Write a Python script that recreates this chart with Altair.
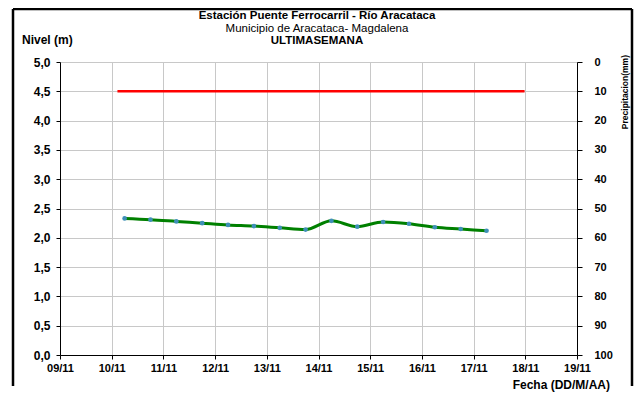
import altair as alt
import pandas as pd

# Nivel del río (m), cada 12 horas
FECHAS = [
    "2023-11-10T06:00:00", "2023-11-10T18:00:00",
    "2023-11-11T06:00:00", "2023-11-11T18:00:00",
    "2023-11-12T06:00:00", "2023-11-12T18:00:00",
    "2023-11-13T06:00:00", "2023-11-13T18:00:00",
    "2023-11-14T06:00:00", "2023-11-14T18:00:00",
    "2023-11-15T06:00:00", "2023-11-15T18:00:00",
    "2023-11-16T06:00:00", "2023-11-16T18:00:00",
    "2023-11-17T06:00:00",
]
NIVEL = [2.33, 2.31, 2.28, 2.25, 2.22, 2.20, 2.17, 2.14,
         2.29, 2.19, 2.27, 2.24, 2.18, 2.15, 2.12]
PRECIP = [0, 0, 0, 0, 0, 0, 0, 0, 0, 0, 0, 0, 0, 0, 0]

# Nivel de alerta
ALERTA_FECHAS = ["2023-11-10T02:40:00", "2023-11-17T23:40:00"]
ALERTA = [4.5, 4.5]

TITULO = "Estación Puente Ferrocarril - Río Aracataca"
SUBTITULO = "Municipio de Aracataca- Magdalena"
PERIODO = "ULTIMASEMANA"
Y_TITULO = "Nivel (m)"
X_TITULO = "Fecha (DD/M/AA)"
Y2_TITULO = "Precipitacion(mm)"

FONT = "Liberation Sans"

df = pd.DataFrame({"fecha": FECHAS, "nivel": NIVEL, "precip": PRECIP})
df_alerta = pd.DataFrame({"fecha": ALERTA_FECHAS, "nivel": ALERTA})
one = pd.DataFrame({"a": [0]})

x_scale = alt.Scale(domain=[alt.DateTime(year=2023, month=11, date=9),
                            alt.DateTime(year=2023, month=11, date=19)],
                    padding=0)
x_axis = alt.Axis(format="%d/%m", tickCount={"interval": "day", "step": 1},
                  title=None, grid=True, gridColor="#c8c8c8", gridWidth=1,
                  domainColor="black", tickColor="black", tickSize=4,
                  labelPadding=3, labelFontSize=11, labelFontWeight="bold",
                  labelFont=FONT, labelColor="black", labelFlush=False,
                  labelOverlap=False)
y_axis = alt.Axis(values=[0, 0.5, 1, 1.5, 2, 2.5, 3, 3.5, 4, 4.5, 5],
                  labelExpr="replace(format(datum.value, '.1f'), '.', ',')",
                  title=None, grid=True, gridColor="#c8c8c8", gridWidth=1,
                  domainColor="black", tickColor="black", tickSize=4,
                  labelPadding=6, labelFontSize=12, labelFontWeight="bold",
                  labelFont=FONT, labelColor="black", labelFlush=False)
y_scale = alt.Scale(domain=[0, 5])

X = alt.X("fecha:T", scale=x_scale, axis=x_axis)
Y = alt.Y("nivel:Q", scale=y_scale, axis=y_axis)

alerta = alt.Chart(df_alerta).mark_line(color="#ff0000", strokeWidth=2.5).encode(
    x=X, y=Y)

linea = alt.Chart(df).mark_line(color="#008000", strokeWidth=3,
                                interpolate="monotone").encode(x=X, y=Y)

puntos = alt.Chart(df).mark_circle(color="#3f8fb8", size=22, opacity=1).encode(
    x=X, y=Y)

nivel_layer = alt.layer(alerta, linea, puntos)

precip = alt.Chart(df).mark_bar(color="#4472c4", width=10).encode(
    x=X,
    y=alt.Y("precip:Q",
            scale=alt.Scale(domain=[0, 100], reverse=True),
            axis=alt.Axis(orient="right", values=list(range(0, 101, 10)),
                          title=None, grid=False, domainColor="black",
                          tickColor="black", tickSize=5, labelPadding=12,
                          labelFontSize=11, labelFontWeight="bold",
                          labelFont=FONT, labelColor="black",
                          labelFlush=False)))

def txt(text, x, y, size=12, weight="bold", align="center", angle=0):
    return alt.Chart(one).mark_text(
        text=text, fontSize=size, fontWeight=weight, font=FONT, color="black",
        align=align, baseline="middle", angle=angle, clip=False).encode(
        x=alt.value(x), y=alt.value(y))

textos = [
    txt(TITULO, 257, -46, size=11.5),
    txt(SUBTITULO, 257, -33.5, size=11.5, weight="normal"),
    txt(PERIODO, 257, -21, size=11.5),
    txt(Y_TITULO, -38, -22, align="left"),
    txt(X_TITULO, 550, 323, align="right"),
    txt(Y2_TITULO, 565, -7, size=8.5, align="right", angle=270),
]

def borde(x, x2, y, y2):
    return alt.Chart(one).mark_rule(color="black", strokeWidth=2.5,
                                    clip=False).encode(
        x=alt.value(x), x2=alt.value(x2), y=alt.value(y), y2=alt.value(y2))

marco = [
    borde(-47, -47, -53, 324),
    borde(-47, 572, -53, -53),
    borde(572, 572, -53, 324),
]

chart = alt.layer(
    nivel_layer, precip, *textos, *marco
).resolve_scale(y="independent").properties(
    width=517, height=293,
    padding={"left": 52, "top": 54, "right": 57, "bottom": 37},
    autosize=alt.AutoSizeParams(type="none"),
    background="white",
).configure_view(stroke=None)

chart.save("out.html", embed_options={"renderer": "svg", "actions": False})
